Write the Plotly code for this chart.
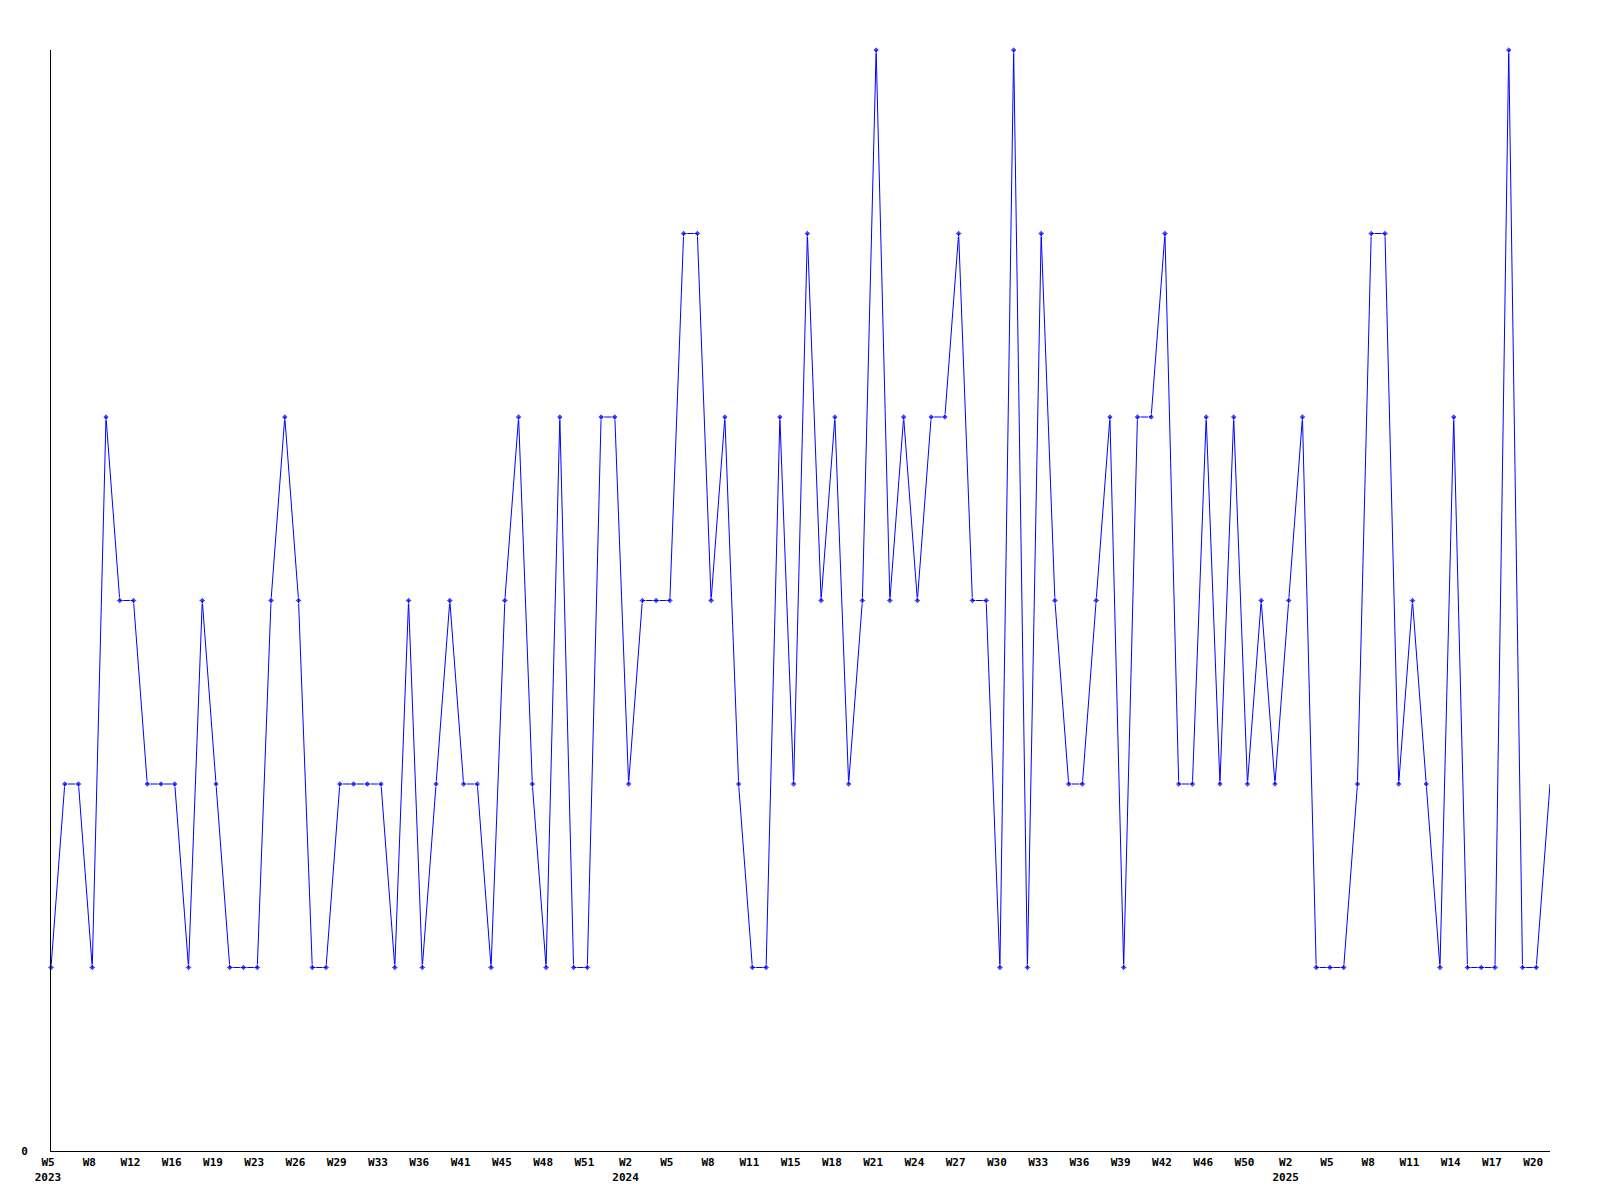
import plotly.graph_objects as go

values = [1, 2, 2, 1, 4, 3, 3, 2, 2, 2,
          1, 3, 2, 1, 1, 1, 3, 4, 3, 1,
          1, 2, 2, 2, 2, 1, 3, 1, 2, 3,
          2, 2, 1, 3, 4, 2, 1, 4, 1, 1,
          4, 4, 2, 3, 3, 3, 5, 5, 3, 4,
          2, 1, 1, 4, 2, 5, 3, 4, 2, 3,
          6, 3, 4, 3, 4, 4, 5, 3, 3, 1,
          6, 1, 5, 3, 2, 2, 3, 4, 1, 4,
          4, 5, 2, 2, 4, 2, 4, 2, 3, 2,
          3, 4, 1, 1, 1, 2, 5, 5, 2, 3,
          2, 1, 4, 1, 1, 1, 6, 1, 1, 2]

tick_labels = ["W5<br>2023", "W8", "W12", "W16", "W19", "W23", "W26", "W29", "W33",
               "W36", "W41", "W45", "W48", "W51",
               "W2<br>2024", "W5", "W8", "W11", "W15", "W18", "W21", "W24", "W27",
               "W30", "W33", "W36", "W39", "W42", "W46", "W50",
               "W2<br>2025", "W5", "W8", "W11", "W14", "W17", "W20"]

n = len(values)
x = list(range(n))
tick_step = 3
tickvals = list(range(0, n, tick_step))[:len(tick_labels)]
marker_sizes = [5] * (n - 1) + [0]

font = dict(family="DejaVu Sans Mono", size=11, color="black", weight="bold")

fig = go.Figure()
fig.add_trace(go.Scatter(
    x=x, y=values, mode="lines+markers",
    line=dict(color="#0000FF", width=1),
    marker=dict(symbol="diamond", size=marker_sizes, color="#0000FF"),
    cliponaxis=False, showlegend=False,
))

fig.update_layout(
    width=1584, height=1184,
    margin=dict(l=43, r=42, t=42, b=41, pad=0),
    paper_bgcolor="white", plot_bgcolor="white",
    font=font,
    xaxis=dict(range=[0, n - 1], tickvals=tickvals, ticktext=tick_labels,
               showgrid=False, zeroline=False, showline=True, linecolor="black",
               linewidth=1, ticks="", tickfont=font, tickangle=0,
               ticklabelstandoff=1, ticklabelshift=-3, automargin=False),
    yaxis=dict(range=[0, 6], tickvals=[0], ticktext=["0"], showgrid=False,
               zeroline=False, showline=True, linecolor="black", linewidth=1,
               ticks="", tickfont=font, ticklabelstandoff=20, automargin=False),
)

fig.write_html("out.html")
